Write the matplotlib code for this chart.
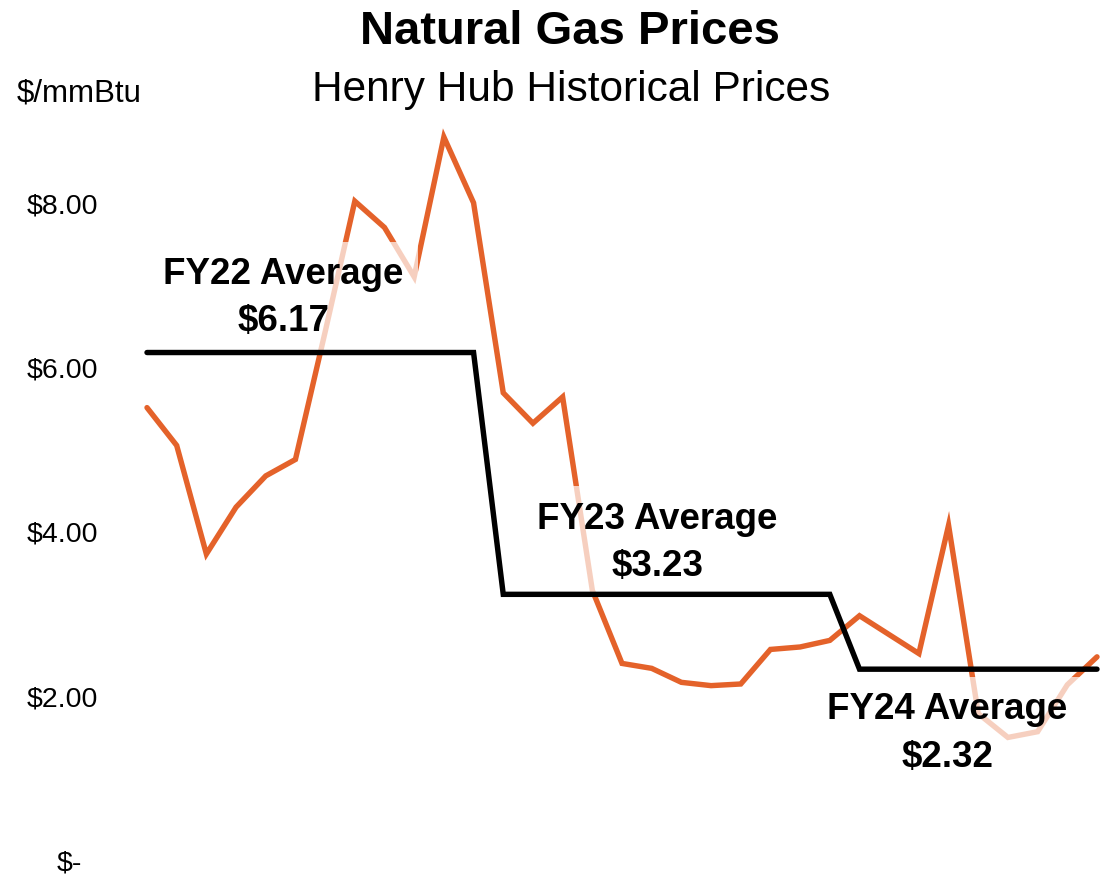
import numpy as np
import matplotlib.pyplot as plt
from matplotlib.transforms import ScaledTranslation

plt.rcParams['font.family'] = ['Liberation Sans', 'DejaVu Sans']

# monthly Henry Hub price, Oct 2021 .. Jun 2024 ($/mmBtu)
henry_hub = [5.50, 5.04, 3.72, 4.29, 4.67, 4.87, 6.42, 8.01, 7.69, 7.09, 8.79, 7.99,
             5.68, 5.31, 5.63, 3.28, 2.39, 2.33, 2.16, 2.12, 2.14, 2.56, 2.59, 2.67,
             2.97, 2.74, 2.51, 4.07, 1.78, 1.49, 1.56, 2.13, 2.47]

fiscal_years = ["FY22", "FY23", "FY24"]
fy_average = [6.17, 3.23, 2.32]
fy_months = [12, 12, 9]

# label centres (month index, price)
label_x = [4.6, 17.2, 26.95]
label_y = [6.84, 3.87, 1.55]

y_ticks = [0, 2, 4, 6, 8]
y_tick_labels = ["$-", "$2.00", "$4.00", "$6.00", "$8.00"]

ORANGE = "#E4622A"

fig = plt.figure(figsize=(11.04, 8.79), dpi=100)
ax = fig.add_axes([147 / 1104, 18 / 879, 950 / 1104, 740.25 / 879])

x = np.arange(len(henry_hub))
avg_line = np.repeat(fy_average, fy_months)

ax.plot(x, henry_hub, color=ORANGE, lw=3.9, solid_capstyle='round',
        solid_joinstyle='miter', clip_on=False, zorder=2)
ax.plot(x, avg_line, color="black", lw=3.9, solid_capstyle='round',
        solid_joinstyle='miter', clip_on=False, zorder=5)

for name, avg, lx, ly in zip(fiscal_years, fy_average, label_x, label_y):
    ax.text(lx, ly, f"{name} Average\n${avg:.2f}", ha='center', va='center',
            fontsize=26.5, fontweight='bold', linespacing=1.45, zorder=4,
            bbox=dict(boxstyle='square,pad=0.4', facecolor='white',
                      edgecolor='none', alpha=0.7))

ax.set_xlim(0, 32)
ax.set_ylim(0, 9)
ax.set_xticks([])
ax.set_yticks(y_ticks, y_tick_labels, fontsize=20.5)
ax.tick_params(axis='y', length=0, pad=35)
for s in ax.spines.values():
    s.set_visible(False)

# "$-" sits further right like an accounting format
zero_lbl = ax.yaxis.get_major_ticks()[0].label1
zero_lbl.set_transform(zero_lbl.get_transform() + ScaledTranslation(-0.16, 0, fig.dpi_scale_trans))

fig.text(570 / 1104, 1 - 44 / 879, "Natural Gas Prices", ha='center', va='baseline',
         fontsize=34, fontweight='bold')
fig.text(571 / 1104, 1 - 101 / 879, "Henry Hub Historical Prices", ha='center',
         va='baseline', fontsize=30.5)
fig.text(17 / 1104, 1 - 101 / 879, "$/mmBtu", ha='left', va='baseline', fontsize=22.5)

fig.savefig("out.png", dpi=100)
